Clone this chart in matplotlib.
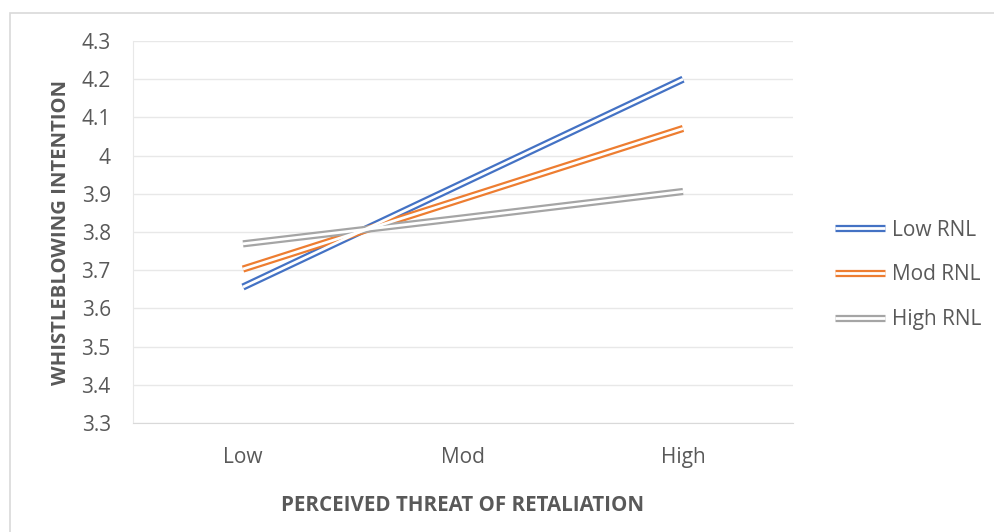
import matplotlib.pyplot as plt
from matplotlib.patches import Rectangle
from matplotlib.lines import Line2D

categories = ['Low', 'Mod', 'High']
series_names = ['Low RNL', 'Mod RNL', 'High RNL']
low_rnl = [3.656, 3.928, 4.200]
mod_rnl = [3.703, 3.887, 4.071]
high_rnl = [3.769, 3.837, 3.906]
y_ticks = [3.3, 3.4, 3.5, 3.6, 3.7, 3.8, 3.9, 4.0, 4.1, 4.2, 4.3]
y_tick_labels = ['3.3', '3.4', '3.5', '3.6', '3.7', '3.8', '3.9', '4', '4.1', '4.2', '4.3']

colors = ['#4472C4', '#ED7D31', '#A5A5A5']
text_color = '#595959'

plt.rcParams['font.family'] = ['Open Sans', 'DejaVu Sans']

fig = plt.figure(figsize=(9.95, 5.32), dpi=100)
# chart border
fig.patches.append(Rectangle((10 / 995, -0.05), 1.1, 1 - 13 / 532 + 0.05, transform=fig.transFigure,
                             fill=False, edgecolor='#D9D9D9', linewidth=1.2))
ax = fig.add_axes([133 / 995, 109 / 532, 660 / 995, 382 / 532])

x = list(range(len(categories)))
handles = []
# double line look: thick coloured line with thin white line on top
for vals, col, name in zip([low_rnl, mod_rnl, high_rnl], colors, series_names):
    ax.plot(x, vals, color=col, linewidth=5.2, solid_capstyle='butt', zorder=3)
    ax.plot(x, vals, color='white', linewidth=2.0, solid_capstyle='butt', zorder=4)
    handles.append((Line2D([], [], color=col, linewidth=5.2, solid_capstyle='butt'),
                    Line2D([], [], color='white', linewidth=2.0, solid_capstyle='butt')))

ax.set_xlim(-0.5, 2.5)
ax.set_ylim(3.3, 4.3)
ax.set_yticks(y_ticks)
ax.set_yticklabels(y_tick_labels)
ax.set_xticks(x)
ax.set_xticklabels(categories)
ax.tick_params(axis='both', length=0, labelsize=15, colors=text_color)
ax.tick_params(axis='x', pad=17)
ax.tick_params(axis='y', pad=16)
ax.grid(axis='y', color='#E8E8E8', linewidth=1)
ax.set_axisbelow(True)
for s in ['top', 'right']:
    ax.spines[s].set_visible(False)
ax.spines['left'].set_color('#E8E8E8')
ax.spines['bottom'].set_color('#D9D9D9')

ax.set_xlabel('PERCEIVED THREAT OF RETALIATION', fontsize=14.8, fontweight='bold',
              color=text_color, labelpad=20)
ax.set_ylabel('WHISTLEBLOWING INTENTION', fontsize=14.6, fontweight='bold',
              color=text_color)
ax.yaxis.set_label_coords(-0.094, 0.5)

leg = fig.legend(handles, series_names, loc='center left', bbox_to_anchor=(816 / 995, 1 - 275 / 532),
                 frameon=False, fontsize=15, handlelength=2.4, labelspacing=1.15, handletextpad=0.35)
for t in leg.get_texts():
    t.set_color(text_color)

plt.savefig('out.png', dpi=100)
